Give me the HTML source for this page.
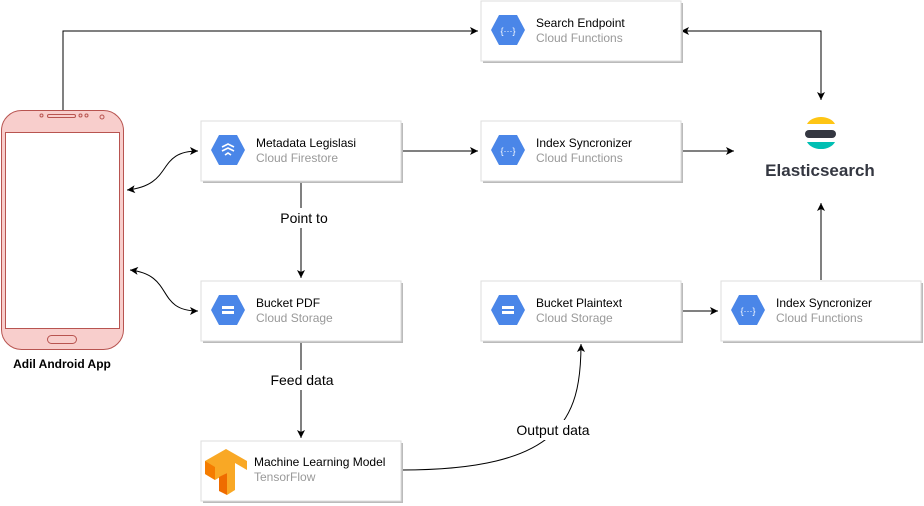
<!DOCTYPE html>
<html><head><meta charset="utf-8"><style>
body{margin:0;background:#fff;}
svg{display:block;font-family:"Liberation Sans",Arial,sans-serif;}
.t{font-size:12px;fill:#000}
.s{font-size:12px;fill:#999}
.l{font-size:14px;fill:#000}
</style></head><body>
<svg width="924" height="506" viewBox="0 0 924 506" xmlns="http://www.w3.org/2000/svg">
<defs>
<marker id="a" markerWidth="10" markerHeight="10" refX="8" refY="5" orient="auto" markerUnits="userSpaceOnUse">
<path d="M0,1 L8,5 L0,9 L2,5 z" fill="#000"/></marker>
<marker id="b" markerWidth="10" markerHeight="10" refX="2" refY="5" orient="auto" markerUnits="userSpaceOnUse">
<path d="M10,1 L2,5 L10,9 L8,5 z" fill="#000"/></marker>
<g id="hex"><polygon points="-9,-15 9,-15 17,0 9,15 -9,15 -17,0" fill="#4a86e8"/></g>
</defs>
<!-- connectors -->
<g fill="none" stroke="#000" stroke-width="1">
<path d="M63,110 V31 H478" marker-end="url(#a)"/>
<path d="M681,31 H821 V100" marker-start="url(#b)" marker-end="url(#a)"/>
<path d="M401,151 H478" marker-end="url(#a)"/>
<path d="M681,151 H734" marker-end="url(#a)"/>
<path d="M821,280 V203" marker-end="url(#a)"/>
<path d="M681,311 H718" marker-end="url(#a)"/>
<path d="M301,181 V278" marker-end="url(#a)"/>
<path d="M301,341 V438" marker-end="url(#a)"/>
<path d="M127,190 C175,185 155,151 198,151" marker-start="url(#b)" marker-end="url(#a)"/>
<path d="M130,270 C175,275 155,311 198,311" marker-start="url(#b)" marker-end="url(#a)"/>
<path d="M401,470 C560,470 581,420 581,344" marker-end="url(#a)"/>
</g>
<rect x="279" y="208" width="50" height="20" fill="#fff"/><text class="l" x="304" y="223" text-anchor="middle">Point to</text>
<rect x="267" y="370" width="70" height="20" fill="#fff"/><text class="l" x="302" y="385" text-anchor="middle">Feed data</text>
<rect x="514" y="420" width="80" height="20" fill="#fff"/><text class="l" x="553" y="435" text-anchor="middle">Output data</text>
<!-- boxes -->
<g>
<rect x="203" y="123" width="200" height="60" fill="#bbb"/><rect x="201" y="121" width="200" height="60" fill="#fff" stroke="#ddd"/>
<rect x="483" y="3" width="200" height="60" fill="#bbb"/><rect x="481" y="1" width="200" height="60" fill="#fff" stroke="#ddd"/>
<rect x="483" y="123" width="200" height="60" fill="#bbb"/><rect x="481" y="121" width="200" height="60" fill="#fff" stroke="#ddd"/>
<rect x="203" y="283" width="200" height="60" fill="#bbb"/><rect x="201" y="281" width="200" height="60" fill="#fff" stroke="#ddd"/>
<rect x="483" y="283" width="200" height="60" fill="#bbb"/><rect x="481" y="281" width="200" height="60" fill="#fff" stroke="#ddd"/>
<rect x="723" y="283" width="200" height="60" fill="#bbb"/><rect x="721" y="281" width="200" height="60" fill="#fff" stroke="#ddd"/>
<rect x="203" y="443" width="200" height="60" fill="#bbb"/><rect x="201" y="441" width="200" height="60" fill="#fff" stroke="#ddd"/>
</g>
<!-- icons -->
<g transform="translate(228,150)"><use href="#hex"/><path d="M-6,-3 L0,-6 L6,-3 M-6,1 L0,-2 L6,1 M-3,5 L0,3 L3,5" stroke="#fff" stroke-width="1.6" fill="none"/></g>
<g transform="translate(508,30)"><use href="#hex"/><text x="0" y="4" font-size="9" fill="#fff" text-anchor="middle">{···}</text></g>
<g transform="translate(508,150)"><use href="#hex"/><text x="0" y="4" font-size="9" fill="#fff" text-anchor="middle">{···}</text></g>
<g transform="translate(748,310)"><use href="#hex"/><text x="0" y="4" font-size="9" fill="#fff" text-anchor="middle">{···}</text></g>
<g transform="translate(228,310)"><use href="#hex"/><rect x="-6" y="-4" width="12" height="3" fill="#fff"/><rect x="-6" y="1" width="12" height="3" fill="#fff"/></g>
<g transform="translate(508,310)"><use href="#hex"/><rect x="-6" y="-4" width="12" height="3" fill="#fff"/><rect x="-6" y="1" width="12" height="3" fill="#fff"/></g>
<!-- tensorflow -->
<g transform="translate(205,448)">
<polygon points="0,13 21,1 42,13 42,22 30,15 30,42 22,47 22,25 10,32 0,26" fill="#f9a825"/>
<polygon points="0,13 0,26 10,32 10,19" fill="#f57c00"/>
<polygon points="22,25 22,47 14,43 14,29" fill="#ef6c00"/>
</g>
<!-- text -->
<text class="t" x="256" y="147">Metadata Legislasi</text><text class="s" x="256" y="162">Cloud Firestore</text>
<text class="t" x="536" y="27">Search Endpoint</text><text class="s" x="536" y="42">Cloud Functions</text>
<text class="t" x="536" y="147">Index Syncronizer</text><text class="s" x="536" y="162">Cloud Functions</text>
<text class="t" x="256" y="307">Bucket PDF</text><text class="s" x="256" y="322">Cloud Storage</text>
<text class="t" x="536" y="307">Bucket Plaintext</text><text class="s" x="536" y="322">Cloud Storage</text>
<text class="t" x="776" y="307">Index Syncronizer</text><text class="s" x="776" y="322">Cloud Functions</text>
<text class="t" x="254" y="466">Machine Learning Model</text><text class="s" x="254" y="481">TensorFlow</text>
<!-- elasticsearch -->
<g>
<path d="M807,124 A15,11 0 0 1 835,124 Z" fill="#fec514"/>
<rect x="805" y="130" width="31" height="8" rx="4" fill="#343741"/>
<path d="M807,142 L835,142 A15,11 0 0 1 807,142 Z" fill="#00bfb3"/>
<text x="820" y="176" font-size="17" font-weight="bold" fill="#343741" text-anchor="middle">Elasticsearch</text>
</g>
<!-- phone -->
<rect x="1.5" y="110.5" width="122" height="239" rx="20" fill="#f8cecc" stroke="#b85450"/>
<rect x="5.5" y="132.5" width="114" height="196" fill="#fff" stroke="#b85450"/>
<rect x="47.5" y="114.5" width="28" height="3" rx="1.5" fill="none" stroke="#b85450"/>
<circle cx="41.5" cy="115.5" r="1.5" fill="none" stroke="#b85450"/>
<circle cx="80.5" cy="115.5" r="1.5" fill="none" stroke="#b85450"/>
<circle cx="86.5" cy="115.5" r="1.5" fill="none" stroke="#b85450"/>
<circle cx="102" cy="117" r="2" fill="none" stroke="#b85450"/>
<rect x="47.5" y="335.5" width="29" height="8" rx="4" fill="none" stroke="#b85450"/>
<text x="62" y="368" font-size="12" font-weight="bold" text-anchor="middle">Adil Android App</text>
</svg>
</body></html>
